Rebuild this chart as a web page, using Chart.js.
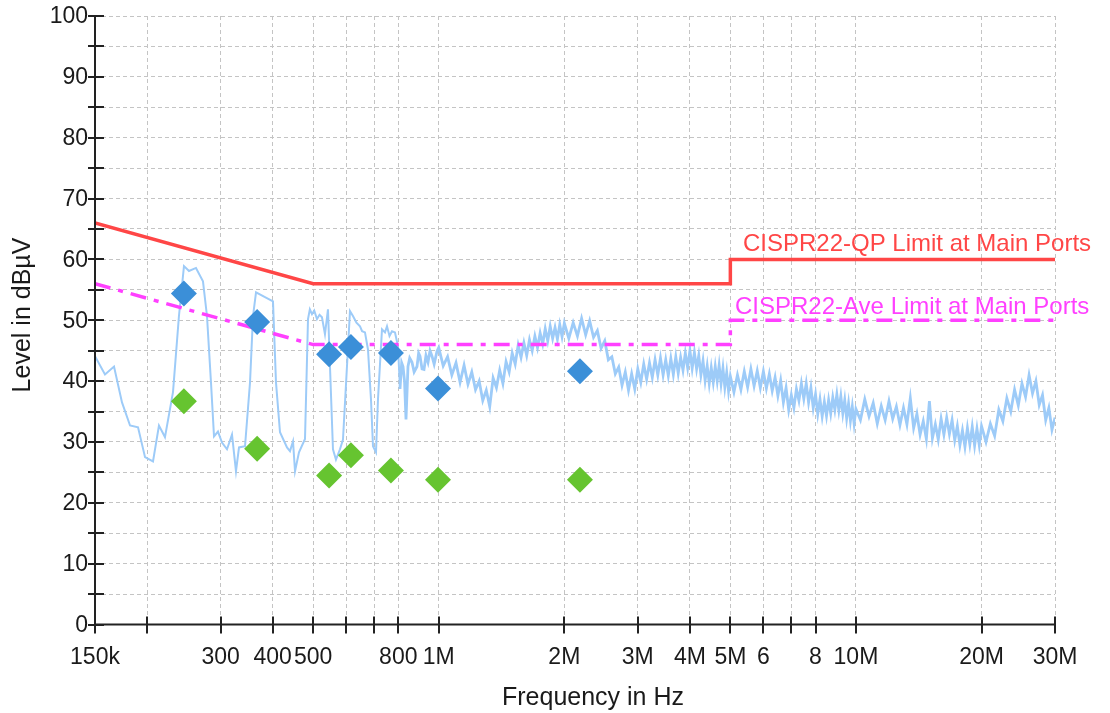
<!DOCTYPE html>
<html><head><meta charset="utf-8">
<script src="https://cdn.jsdelivr.net/npm/chart.js@4.4.1/dist/chart.umd.min.js"></script>
<style>html,body{margin:0;padding:0;background:#fff;}#wrap{width:1110px;height:713px;}</style>
</head><body><div id="wrap"><canvas id="c" width="1110" height="713"></canvas></div>
<script>
// ---- axis ticks ----
const xTicks = [150e3,200e3,300e3,400e3,500e3,600e3,700e3,800e3,1e6,2e6,3e6,4e6,5e6,6e6,7e6,8e6,10e6,20e6,30e6];
const xTickLabels = ['150k','','300','400','500','','','800','1M','2M','3M','4M','5M','6','','8','10M','20M','30M'];
const yTicks = [0,5,10,15,20,25,30,35,40,45,50,55,60,65,70,75,80,85,90,95,100];
const yTickLabels = ['0','','10','','20','','30','','40','','50','','60','','70','','80','','90','','100'];

// ---- limit lines ----
const limitFreq = [150e3, 500e3, 5e6, 5e6, 30e6];
const qpLimitLevel = [66, 56, 56, 60, 60];
const aveLimitLevel = [56, 46, 46, 50, 50];

// ---- final measurements ----
const peakFreq = [245e3, 367e3, 546e3, 616e3, 768e3, 996e3, 2.18e6];
const qpLevel = [54.4, 49.7, 44.4, 45.6, 44.6, 38.8, 41.6];
const avLevel = [36.7, 28.9, 24.5, 27.8, 25.3, 23.8, 23.8];

// ---- preview scan (kHz, dBuV) ----
const traceFreqKHz = [
150,158.5,166.6,174.1,182,190.2,197.7,206.6,213.5,220.7,
230.7,238.4,245.1,252,261.9,272.2,278.3,284.5,289.3,295.7,
302.3,310.8,319.5,326.6,332.1,343.3,352.9,358.8,364.8,383.3,
400.6,407.3,416.4,432.8,440,447.4,452.4,462.4,478,486,
491,496.8,503,510.7,518,524.9,533.7,542.6,548.7,557.8,
567.1,579.8,589.5,602.6,612.7,622.9,635,647.5,655,665.6,
676.7,688,695.7,707.3,715.1,731.1,743.3,751.6,762,772.6,
785.5,798.6,807.5,815,821,828,834.7,843.9,852,862.8,
873,887,895,901.8,912,921.9,932,942.5,953,963.5,
975,990.5,1000,
1025,1050,1075,1100,1125,1150,1175,1200,1225,1250,
1275,1300,1325,1350,1375,1400,1425,1450,1475,1500,
1525,1550,1575,1600,1625,1650,1675,1700,1725,1750,
1775,1800,1825,1850,1875,1900,1925,1950,1975,2000,
2050,2100,2150,2200,2250,2300,2350,2400,2450,2500,
2550,2600,2650,2700,2750,2800,2850,2900,2950,3000,
3050,3100,3150,3200,3250,3300,3350,3400,3450,3500,
3550,3600,3650,3700,3750,3800,3850,3900,3950,4000,
4050,4100,4150,4200,4250,4300,4350,4400,4450,4500,
4550,4600,4650,4700,4750,4800,4850,4900,4950,5000,
5100,5200,5300,5400,5500,5600,5700,5800,5900,6000,
6100,6200,6300,6400,6500,6600,6700,6800,6900,7000,
7100,7200,7300,7400,7500,7600,7700,7800,7900,8000,
8100,8200,8300,8400,8500,8600,8700,8800,8900,9000,
9100,9200,9300,9400,9500,9600,9700,9800,9900,10000,
10250,10500,10750,11000,11250,11500,11750,12000,12250,12500,
12750,13000,13250,13500,13750,14000,14250,14500,14750,15000,
15250,15500,15750,16000,16250,16500,16750,17000,17250,17500,
17750,18000,18250,18500,18750,19000,19250,19500,19750,20000,
20500,21000,21500,22000,22500,23000,23500,24000,24500,25000,
25500,26000,26500,27000,27500,28000,28500,29000,29500,30000
];
const traceLevel = [
44.1,41.1,42.4,36.5,32.7,32.4,27.5,26.8,32.7,30.8,
38.2,50.7,58.9,58.1,58.6,56.4,50.7,39.8,30.9,31.7,
29.9,28.8,31.2,25.2,29.1,29.3,39.8,50.7,54.6,53.8,
53.1,39.8,31.6,29.1,28.5,30.1,25.2,28.3,30.5,50.2,
51.8,51.0,51.6,50.2,50.9,50.5,47.7,51.8,42.4,28.8,
27.1,28.8,30.4,42.4,51.5,50.7,49.6,49.0,48.2,48.0,
45.2,37.0,29.3,28.3,37.0,48.5,48.0,49.0,47.4,48.2,
48.0,45.7,38.7,43.0,42.4,40.0,33.7,42.4,43.8,43.1,
41.5,42.4,44.6,44.1,42.0,41.9,44.2,43.1,45.0,44.1,
42.8,44.9,45.5,
42.5,44.0,41.0,43.0,39.8,42.6,39.5,41.5,38.6,40.0,
36.8,38.5,35.8,40.5,38.9,41.8,39.6,43.2,41.5,44.6,
42.8,45.9,43.9,46.3,44.2,46.8,45.0,47.4,45.5,47.9,
46.1,48.6,46.6,49.0,47.0,48.8,46.9,49.3,47.3,49.5,
47.0,49.6,47.4,50.3,47.6,49.9,47.2,48.3,45.4,46.6,
43.5,44.0,41.2,42.3,39.3,41.5,38.5,41.2,38.7,42.0,
39.8,42.8,40.3,43.0,40.6,43.5,41.0,43.8,41.0,43.5,
40.9,43.7,41.1,44.0,41.3,43.9,41.8,44.6,42.2,45.0,
42.1,44.7,42.0,44.2,41.0,43.3,40.1,42.5,39.6,42.2,
39.8,42.4,40.0,42.6,39.6,42.1,39.0,41.4,38.4,40.8,
38.2,41.0,38.6,41.6,39.0,42.0,39.2,41.7,38.9,41.6,
38.8,41.2,38.4,40.6,37.6,40.1,36.5,38.9,35.3,37.7,
35.6,38.7,36.8,39.6,37.1,39.6,36.5,38.9,35.6,37.8,
34.6,37.0,34.2,36.6,34.3,36.9,34.7,37.3,35.3,37.8,
35.2,37.5,34.7,36.9,33.9,36.3,33.5,35.8,33.0,35.4,
33.6,37.0,34.2,36.4,33.0,35.9,33.6,36.7,33.8,35.8,
32.8,35.6,32.9,37.2,32.3,34.6,31.2,33.4,30.5,36.7,
30.6,32.9,30.4,33.8,31.2,34.0,31.3,33.6,30.3,32.6,
29.5,31.9,29.2,32.3,29.6,32.5,29.4,32.2,29.5,32.6,
30.0,33.0,31.0,35.3,33.4,37.2,35.0,38.6,36.0,39.6,
37.4,41.0,38.0,40.0,36.1,37.7,33.6,35.6,32.0,34.0
];

const QP_COLOR = '#ff4646';
const AVE_COLOR = '#ff40ff';
const TRACE_COLOR = '#9dcbf8';
const QP_DOT = '#3b8fd8';
const AV_DOT = '#66c430';
const TEXT_COLOR = '#1a1a1a';
const FONT = '"Liberation Sans", Arial, Helvetica, sans-serif';

const pts = (xs, ys, k) => xs.map((f, i) => ({x: f * k, y: ys[i]}));

const overlay = {
  id: 'overlay',
  afterDatasetsDraw(chart) {
    const {ctx, scales: {x, y}} = chart;
    ctx.save();
    ctx.beginPath();
    ctx.rect(0, 0, 1098, 713);
    ctx.clip();
    ctx.font = '24px ' + FONT;
    ctx.textAlign = 'left';
    ctx.textBaseline = 'alphabetic';
    ctx.fillStyle = QP_COLOR;
    ctx.fillText('CISPR22-QP Limit at Main Ports', x.getPixelForValue(5.36e6), y.getPixelForValue(61.4));
    ctx.fillStyle = AVE_COLOR;
    ctx.fillText('CISPR22-Ave Limit at Main Ports', x.getPixelForValue(5.13e6), y.getPixelForValue(51.0));
    ctx.restore();
  },
  afterDraw(chart) {
    const {ctx, chartArea: a, scales: {x, y}} = chart;
    ctx.save();
    ctx.strokeStyle = '#222';
    ctx.lineWidth = 2;
    ctx.beginPath();
    ctx.moveTo(a.left, a.top - 1);
    ctx.lineTo(a.left, a.bottom);
    ctx.lineTo(a.right + 1, a.bottom);
    ctx.stroke();
    ctx.beginPath();
    yTicks.forEach(v => { const py = Math.round(y.getPixelForValue(v)); ctx.moveTo(a.left - 7, py); ctx.lineTo(a.left + 9, py); });
    xTicks.forEach(v => { const px = Math.round(x.getPixelForValue(v)); ctx.moveTo(px, a.bottom - 8); ctx.lineTo(px, a.bottom + 9); });
    ctx.stroke();
    // tick labels
    ctx.fillStyle = TEXT_COLOR;
    ctx.font = '23px ' + FONT;
    ctx.textBaseline = 'middle';
    ctx.textAlign = 'right';
    yTicks.forEach((v, i) => { if (yTickLabels[i]) ctx.fillText(yTickLabels[i], a.left - 7, y.getPixelForValue(v) + 1); });
    ctx.textAlign = 'center';
    xTicks.forEach((v, i) => { if (xTickLabels[i]) ctx.fillText(xTickLabels[i], x.getPixelForValue(v), a.bottom + 33); });
    // axis titles
    ctx.font = '25px ' + FONT;
    ctx.fillText('Frequency in Hz', 593, 698);
    ctx.translate(23, 315);
    ctx.rotate(-Math.PI / 2);
    ctx.fillText('Level in dBµV', 0, 0);
    ctx.restore();
  }
};

new Chart(document.getElementById('c'), {
  type: 'scatter',
  data: {
    datasets: [
      {label: 'QP', data: pts(peakFreq, qpLevel, 1), pointStyle: 'rectRot', pointRadius: 13, pointBackgroundColor: QP_DOT, pointBorderWidth: 0, showLine: false, order: 0},
      {label: 'AV', data: pts(peakFreq, avLevel, 1), pointStyle: 'rectRot', pointRadius: 13, pointBackgroundColor: AV_DOT, pointBorderWidth: 0, showLine: false, order: 0},
      {label: 'QP limit', data: pts(limitFreq, qpLimitLevel, 1), showLine: true, borderColor: QP_COLOR, borderWidth: 3.5, pointRadius: 0, order: 1},
      {label: 'Ave limit', data: pts(limitFreq, aveLimitLevel, 1), showLine: true, borderColor: AVE_COLOR, borderWidth: 3.5, borderDash: [16, 8, 5, 8], pointRadius: 0, order: 1},
      {label: 'Scan', data: pts(traceFreqKHz, traceLevel, 1000), showLine: true, borderColor: TRACE_COLOR, borderWidth: 2, pointRadius: 0, tension: 0, order: 2,
        segment: {borderWidth: c => (c.p0.parsed.x >= 8e5 ? 2.8 : 2)}}
    ]
  },
  options: {
    responsive: false,
    animation: false,
    devicePixelRatio: 1,
    layout: {padding: {top: 16, right: 55, left: 0, bottom: 0}},
    plugins: {legend: {display: false}, tooltip: {enabled: false}},
    scales: {
      x: {
        type: 'logarithmic', min: 150e3, max: 30e6,
        afterBuildTicks: s => { s.ticks = xTicks.map(v => ({value: v})); },
        afterFit: s => { s.height = 88.5; },
        ticks: {display: false, autoSkip: false, maxRotation: 0, minRotation: 0,
          callback: (v, i) => xTickLabels[i]},
        grid: {color: '#c4c4c4', lineWidth: 1, drawTicks: false},
        border: {display: false, dash: [4, 3]}
      },
      y: {
        min: 0, max: 100,
        afterBuildTicks: s => { s.ticks = yTicks.map(v => ({value: v})); },
        afterFit: s => { s.width = 95; },
        ticks: {display: false, autoSkip: false, callback: (v, i) => yTickLabels[i]},
        grid: {color: '#c4c4c4', lineWidth: 1, drawTicks: false},
        border: {display: false, dash: [4, 3]}
      }
    }
  },
  plugins: [overlay]
});
</script></body></html>
